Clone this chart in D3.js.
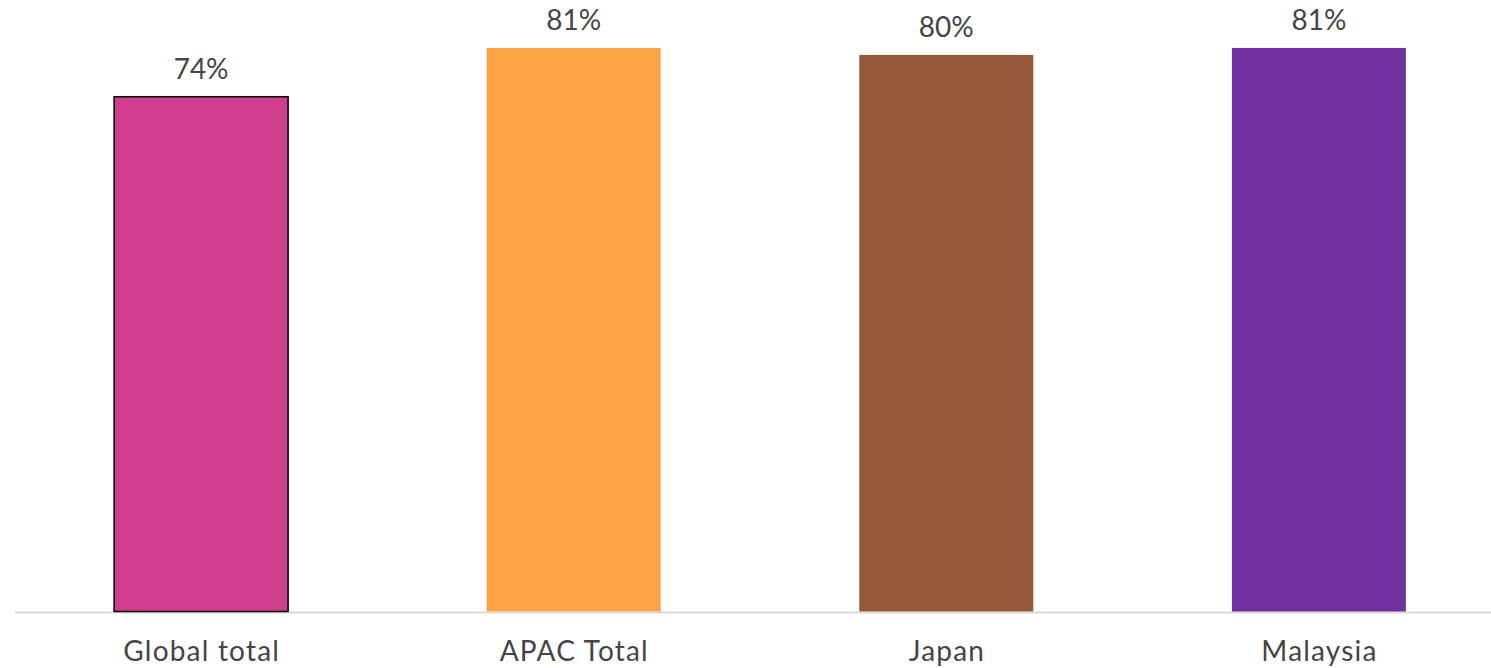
<!DOCTYPE html>
<html><head><meta charset="utf-8">
<script src="https://cdn.jsdelivr.net/npm/d3@7"></script>
<style>html,body{margin:0;padding:0;background:#fff;}svg{display:block;}</style>
</head><body>
<svg id="c" width="1491" height="668"></svg>
<script>
const categories = ["Global total", "APAC Total", "Japan", "Malaysia"];
const values = [0.74, 0.81, 0.80, 0.81];
const colors = ["#CF3E8F", "#FFA347", "#93593A", "#70309F"];
const outlined = [true, false, false, false];

const svg = d3.select("#c");
const W = 1491, H = 668;
const baseY = 612.5;
const x = d3.scaleBand().domain(categories).range([15, 1505]).paddingInner(0.533).paddingOuter(0.266);
const y = d3.scaleLinear().domain([0, 1]).range([baseY, baseY - 697]);

svg.append("line").attr("x1", 15).attr("x2", W).attr("y1", baseY).attr("y2", baseY)
  .attr("stroke", "#d9d9d9").attr("stroke-width", 2);

const data = categories.map((c, i) => ({c, v: values[i], col: colors[i], o: outlined[i]}));

svg.selectAll("rect.bar").data(data).join("rect").attr("class", "bar")
  .attr("x", d => x(d.c)).attr("width", x.bandwidth())
  .attr("y", d => y(d.v)).attr("height", d => y(0) - y(d.v) - 1)
  .attr("fill", d => d.col)
  .attr("stroke", d => d.o ? "#000" : "none").attr("stroke-width", 1.5);

svg.selectAll("text.val").data(data).join("text").attr("class", "val")
  .attr("x", d => x(d.c) + x.bandwidth() / 2).attr("y", d => y(d.v) - 18)
  .attr("text-anchor", "middle").attr("font-family", "Lato").attr("font-size", 28)
  .attr("fill", "#454545").text(d => Math.round(d.v * 100) + "%");

svg.selectAll("text.cat").data(data).join("text").attr("class", "cat")
  .attr("x", d => x(d.c) + x.bandwidth() / 2 + 0.6).attr("y", 661)
  .attr("text-anchor", "middle").attr("font-family", "Lato").attr("font-size", 28)
  .attr("letter-spacing", "1.2px")
  .attr("fill", "#454545").text(d => d.c);
</script>
</body></html>
